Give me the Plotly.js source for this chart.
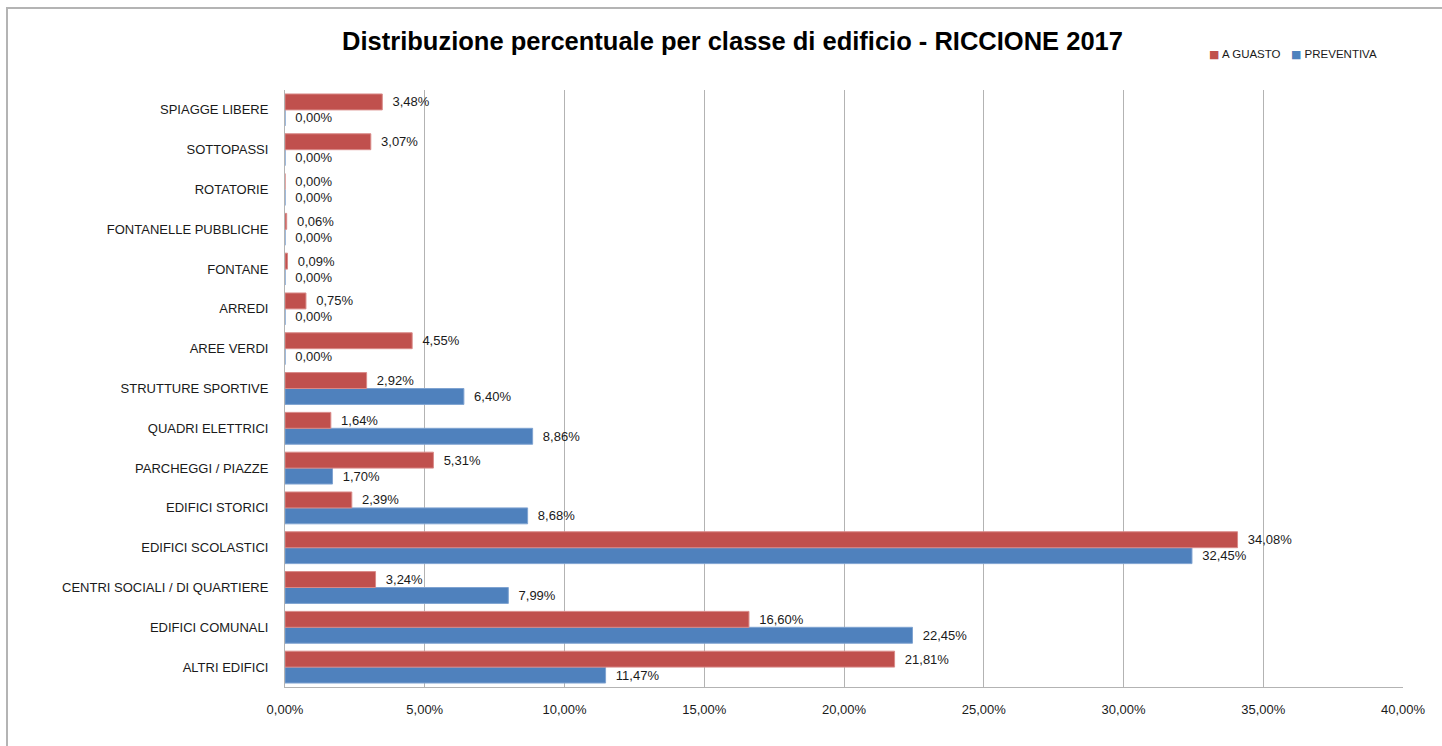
<!DOCTYPE html>
<html>
<head>
<meta charset="utf-8">
<script src="https://cdn.plot.ly/plotly-3.0.1.min.js"></script>
<style>
html,body{margin:0;padding:0;background:#fff;overflow:hidden;}
#frame{position:absolute;left:6px;top:7px;width:1500px;height:800px;border:2px solid #b4b4b4;box-sizing:border-box;}
#chart{position:absolute;left:0;top:0;width:1442px;height:746px;}
</style>
</head>
<body>
<div id="frame"></div>
<div id="chart"></div>
<script>
const categories = [
  "ALTRI EDIFICI",
  "EDIFICI COMUNALI",
  "CENTRI SOCIALI / DI QUARTIERE",
  "EDIFICI SCOLASTICI",
  "EDIFICI STORICI",
  "PARCHEGGI / PIAZZE",
  "QUADRI ELETTRICI",
  "STRUTTURE SPORTIVE",
  "AREE VERDI",
  "ARREDI",
  "FONTANE",
  "FONTANELLE PUBBLICHE",
  "ROTATORIE",
  "SOTTOPASSI",
  "SPIAGGE LIBERE"
];
const aGuasto = [21.81, 16.60, 3.24, 34.08, 2.39, 5.31, 1.64, 2.92, 4.55, 0.75, 0.09, 0.06, 0.00, 3.07, 3.48];
const preventiva = [11.47, 22.45, 7.99, 32.45, 8.68, 1.70, 8.86, 6.40, 0.00, 0.00, 0.00, 0.00, 0.00, 0.00, 0.00];
const xTicks = [0, 5, 10, 15, 20, 25, 30, 35, 40];
const seriesNames = ['A GUASTO', 'PREVENTIVA'];
const seriesColors = ['#C0504D', '#4F81BD'];

const fmt = v => v.toFixed(2).replace('.', ',') + '%';
const lab = v => '\u00a0\u00a0' + fmt(v);
const FONT = 'Liberation Sans, Arial, sans-serif';

const traces = [
  {
    type: 'bar', orientation: 'h', name: seriesNames[1],
    y: categories, x: preventiva,
    marker: {color: seriesColors[1], line: {color: '#7fa3d1', width: 1}},
    text: preventiva.map(lab), textposition: 'outside', cliponaxis: false,
    textfont: {family: FONT, size: 13, color: '#1a1a1a'},
    hoverinfo: 'x+y', showlegend: false
  },
  {
    type: 'bar', orientation: 'h', name: seriesNames[0],
    y: categories, x: aGuasto,
    marker: {color: seriesColors[0], line: {color: '#d98a88', width: 1}},
    text: aGuasto.map(lab), textposition: 'outside', cliponaxis: false,
    textfont: {family: FONT, size: 13, color: '#1a1a1a'},
    hoverinfo: 'x+y', showlegend: false
  }
];

const legendX = [0.8247, 0.8980];
const annotations = seriesNames.map((n, i) => ({
  xref: 'paper', yref: 'paper', x: legendX[i], y: 1.059,
  xanchor: 'left', yanchor: 'middle', showarrow: false,
  text: '<span style="color:' + seriesColors[i] + ';font-family:DejaVu Sans;font-size:11px">■</span> ' + n,
  font: {family: FONT, size: 11.5, color: '#1a1a1a'}
}));

const layout = {
  width: 1442, height: 746,
  paper_bgcolor: 'rgba(0,0,0,0)', plot_bgcolor: 'rgba(0,0,0,0)',
  margin: {l: 285, r: 39, t: 90, b: 59},
  barmode: 'group', bargap: 0.2, bargroupgap: 0,
  separators: ',.',
  font: {family: FONT, size: 13, color: '#1a1a1a'},
  title: {
    text: '<b>Distribuzione percentuale per classe di edificio - RICCIONE 2017</b>',
    font: {family: FONT, size: 25.5, color: '#000'},
    x: 0.508, xref: 'container', xanchor: 'center',
    y: 0.945, yref: 'container', yanchor: 'middle'
  },
  showlegend: false,
  annotations: annotations,
  xaxis: {
    range: [0, 40], tickvals: xTicks, ticktext: xTicks.map(fmt),
    showgrid: true, gridcolor: '#b3b3b3', gridwidth: 1,
    zeroline: false, showline: true, linecolor: '#b3b3b3', linewidth: 1,
    ticks: '', ticklabelstandoff: 10,
    tickfont: {family: FONT, size: 13, color: '#1a1a1a'},
    fixedrange: true
  },
  yaxis: {
    type: 'category', categoryorder: 'array', categoryarray: categories,
    showgrid: false, zeroline: false, showline: true, linecolor: '#b3b3b3', linewidth: 1,
    ticks: '', ticklabelstandoff: 13,
    tickfont: {family: FONT, size: 13, color: '#1a1a1a'},
    fixedrange: true
  }
};

Plotly.newPlot('chart', traces, layout, {displayModeBar: false, staticPlot: true});
</script>
</body>
</html>
